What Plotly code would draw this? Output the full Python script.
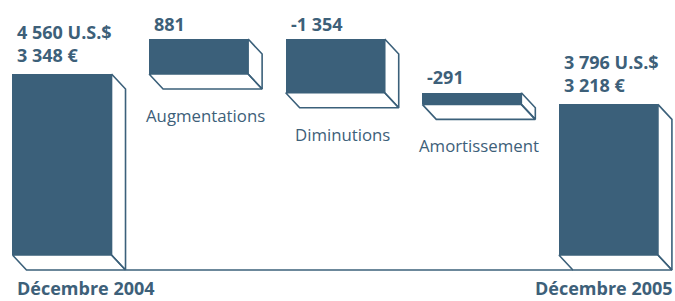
import plotly.graph_objects as go

# ---- data ----
categories = ["Décembre 2004", "Augmentations", "Diminutions", "Amortissement", "Décembre 2005"]
values = [4560, 881, -1354, -291, 3796]
measures = ["total", "relative", "relative", "relative", "total"]
value_labels = ["4 560 U.S.$<br>3 348 €", "881", "-1 354", "-291", "3 796 U.S.$<br>3 218 €"]

# ---- style / layout constants ----
W, H = 675, 301
FILL = "rgb(59,96,122)"
TEXT = "rgb(61,96,121)"
FONT = "Open Sans"
X_PX = 136.6          # pixels per category step
X0_PX = 62            # pixel of first category centre
Y_PX = 181 / 4560     # pixels per value unit
Y0_PX = 255           # pixel of value 0
BAR_W = 0.725
DEPTH_X_PX, DEPTH_Y_PX = 14, 15

x_range = [-X0_PX / X_PX, (W - X0_PX) / X_PX]
y_range = [-(H - Y0_PX) / Y_PX, Y0_PX / Y_PX]
dx = DEPTH_X_PX / X_PX
dy = DEPTH_Y_PX / Y_PX

# waterfall extents
lows, highs = [], []
running = 0
for v, m in zip(values, measures):
    if m == "total":
        lo, hi = 0, v
        running = v
    else:
        start = running
        running = running + v
        lo, hi = min(start, running), max(start, running)
    lows.append(lo)
    highs.append(hi)

fig = go.Figure()

# 3D depth faces (right side + bottom), drawn from the bar geometry
for i, (lo, hi) in enumerate(zip(lows, highs)):
    xl, xr = i - BAR_W / 2, i + BAR_W / 2
    xs = [xr, xr + dx, xr + dx, xr, xr, None,
          xl, xr, xr + dx, xl + dx, xl]
    ys = [hi, hi - dy, lo - dy, lo, hi, None,
          lo, lo, lo - dy, lo - dy, lo]
    fig.add_trace(go.Scatter(x=xs, y=ys, mode="lines", fill="toself",
                             fillcolor="white",
                             line=dict(color=FILL, width=1.6),
                             hoverinfo="skip", showlegend=False))

# baseline between the two totals
fig.add_trace(go.Scatter(x=[0 + BAR_W / 2 + dx, 4 - BAR_W / 2 + dx],
                         y=[-dy, -dy], mode="lines",
                         line=dict(color=FILL, width=1.6),
                         hoverinfo="skip", showlegend=False))

# front faces
fig.add_trace(go.Bar(x=list(range(len(values))),
                     y=[h - l for l, h in zip(lows, highs)],
                     base=lows, width=BAR_W,
                     marker=dict(color=FILL, line=dict(width=0)),
                     hoverinfo="skip", showlegend=False))

BOLD = dict(family=FONT, size=18, color=TEXT, weight="bold")
REG = dict(family=FONT, size=16.8, color=TEXT)

annotations = []
for i, (lo, hi) in enumerate(zip(lows, highs)):
    two_line = "<br>" in value_labels[i]
    annotations.append(dict(
        x=i - BAR_W / 2, y=hi, xref="x", yref="y",
        text=value_labels[i], showarrow=False,
        xanchor="left", yanchor="middle", align="left",
        xshift=3, yshift=31 if two_line else 15.5, font=BOLD))
    if measures[i] == "total":
        if i == 0:
            ax, xa, xs_ = i - BAR_W / 2, "left", 3
        else:
            ax, xa, xs_ = i + BAR_W / 2 + dx, "right", 3
        annotations.append(dict(
            x=ax, y=0, xref="x", yref="y", text=categories[i],
            showarrow=False, xanchor=xa, yanchor="middle", xshift=xs_,
            yshift=-33, font=BOLD))
    else:
        annotations.append(dict(
            x=i + dx / 2, y=lo, xref="x", yref="y", text=categories[i],
            showarrow=False, xanchor="center", yanchor="middle",
            yshift=-41.5, font=REG))

fig.update_layout(
    width=W, height=H, autosize=False,
    margin=dict(l=0, r=0, t=0, b=0),
    paper_bgcolor="white", plot_bgcolor="white",
    xaxis=dict(range=x_range, visible=False, fixedrange=True),
    yaxis=dict(range=y_range, visible=False, fixedrange=True),
    bargap=0, annotations=annotations,
)

fig.write_html("out.html", config={"displayModeBar": False},
               post_script="document.body.style.margin='0';")
